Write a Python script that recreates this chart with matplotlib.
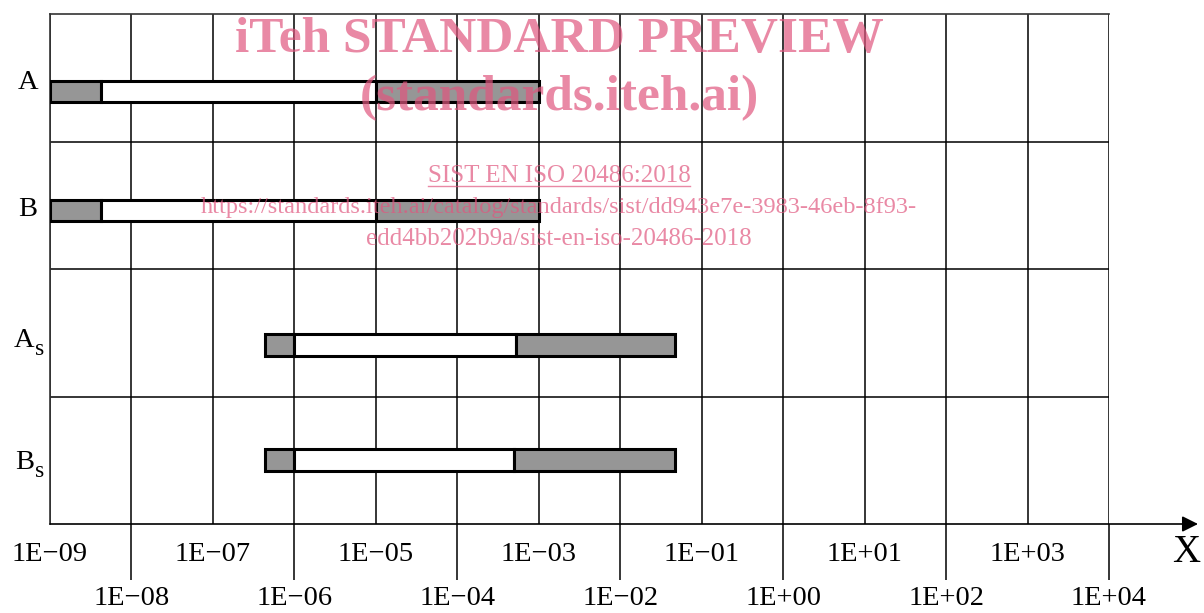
import matplotlib
matplotlib.use("Agg")
import matplotlib.pyplot as plt
from matplotlib.lines import Line2D

plt.rcParams["font.family"] = ["Liberation Serif", "DejaVu Serif"]

# Rows, top to bottom: main letter and subscript
row_names = ["A", "B", "A", "B"]
row_subs = ["", "", "s", "s"]

# Segment boundaries of each range bar (left edge, inner edges, right edge)
row_bounds = [
    [1e-9, 4.2e-9, 1e-5, 1e-3],
    [1e-9, 4.2e-9, 1e-5, 1e-3],
    [4.4e-7, 1e-6, 5.2e-4, 4.7e-2],
    [4.4e-7, 1e-6, 4.9e-4, 4.7e-2],
]
# Fill of each segment: grey - white - grey
segment_fills = ["#969696", "#ffffff", "#969696"]

# Decade exponents of the axis
exponents = list(range(-9, 5))

# Layout: bar centre and label baseline of each row (row units, 0 at the axis)
bar_y = [3.392, 2.459, 1.404, 0.502]
label_y = [3.412, 2.416, 1.388, 0.431]
bar_h = 0.165


def fmt(e):
    return "1E" + ("+" if e >= 0 else "\u2212") + f"{abs(e):02d}"


W, H = 1204, 613
AX_L, AX_R, AX_T, AX_B = 50, 1109, 14, 524
fig = plt.figure(figsize=(W / 100, H / 100), dpi=100)
ax = fig.add_axes([AX_L / W, (H - AX_B) / H, (AX_R - AX_L) / W, (AX_B - AX_T) / H])
ax.set_xscale("log")
ax.set_xlim(10.0 ** exponents[0], 10.0 ** exponents[-1])
ax.set_ylim(0, len(row_names))

# grid
for e in exponents:
    ax.axvline(10.0 ** e, color="black", lw=1.1, zorder=1)
for k in range(1, len(row_names)):
    ax.axhline(k, color="black", lw=1.1, zorder=1)

# range bars
for yb, bounds in zip(bar_y, row_bounds):
    for left, right, fc in zip(bounds[:-1], bounds[1:], segment_fills):
        ax.barh(yb, right - left, left=left, height=bar_h, color=fc,
                edgecolor="black", linewidth=2.2, zorder=3)

# spines
for s in ["right", "bottom"]:
    ax.spines[s].set_visible(False)
for s in ["top", "left"]:
    ax.spines[s].set_color("#333333")
    ax.spines[s].set_linewidth(1.2)

# x axis drawn as an arrow running past the last decade
arrow_end = (1198 - AX_L) / (AX_R - AX_L)
ax.annotate("", xy=(arrow_end, 0), xytext=(0, 0),
            xycoords="axes fraction", textcoords="axes fraction",
            arrowprops=dict(arrowstyle="-|>", color="black", lw=1.2,
                            mutation_scale=24, shrinkA=0, shrinkB=0),
            annotation_clip=False)
fig.text(1186 / W, 1 - 553 / H, "X", fontsize=28, ha="center", va="center")

# ticks: even decades on a lower row with long ticks, odd decades on the upper row
even = [e for e in exponents if e % 2 == 0]
odd = [e for e in exponents if e % 2 != 0]
ax.set_xticks([10.0 ** e for e in even])
ax.set_xticklabels([fmt(e) for e in even])
ax.set_xticks([10.0 ** e for e in odd], minor=True)
ax.set_xticklabels([fmt(e) for e in odd], minor=True)
ax.tick_params(axis="x", which="major", length=40.3, width=1.1, direction="out",
               pad=4, labelsize=20.5, colors="black")
ax.tick_params(axis="x", which="minor", length=0, pad=13, labelsize=20.5)
ax.set_yticks([])

# row labels (letter with optional subscript)
for name, sub, ly in zip(row_names, row_subs, label_y):
    yfig = ax.transData.transform((1.0, ly))[1] / H
    if sub:
        fig.text(34 / W, yfig, name, fontsize=20.5, ha="right", va="baseline")
        fig.text(35 / W, yfig - 8 / H, sub, fontsize=17, ha="left", va="baseline")
    else:
        fig.text(28 / W, yfig, name, fontsize=20.5, ha="center", va="baseline")

# overlay text
wm = "#E0577F"
fig.text(559 / W, 1 - 52 / H, "iTeh STANDARD PREVIEW", fontsize=37, fontweight="bold",
         color=wm, alpha=0.7, ha="center", va="baseline")
fig.text(559 / W, 1 - 110 / H, "(standards.iteh.ai)", fontsize=37, fontweight="bold",
         color=wm, alpha=0.7, ha="center", va="baseline")
t3 = fig.text(559 / W, 1 - 182 / H, "SIST EN ISO 20486:2018", fontsize=18,
              color=wm, alpha=0.7, ha="center", va="baseline")
fig.text(559 / W, 1 - 213 / H,
         "https://standards.iteh.ai/catalog/standards/sist/dd943e7e-3983-46eb-8f93-",
         fontsize=17.6, color=wm, alpha=0.7, ha="center", va="baseline")
fig.text(559 / W, 1 - 245 / H, "edd4bb202b9a/sist-en-iso-20486-2018", fontsize=18,
         color=wm, alpha=0.7, ha="center", va="baseline")

fig.canvas.draw()
bb = t3.get_window_extent()
uy = 1 - 186 / H
fig.add_artist(Line2D([bb.x0 / W, bb.x1 / W], [uy, uy], color=wm, alpha=0.7, lw=1.0))

fig.savefig("out.png", dpi=100, facecolor="white")
